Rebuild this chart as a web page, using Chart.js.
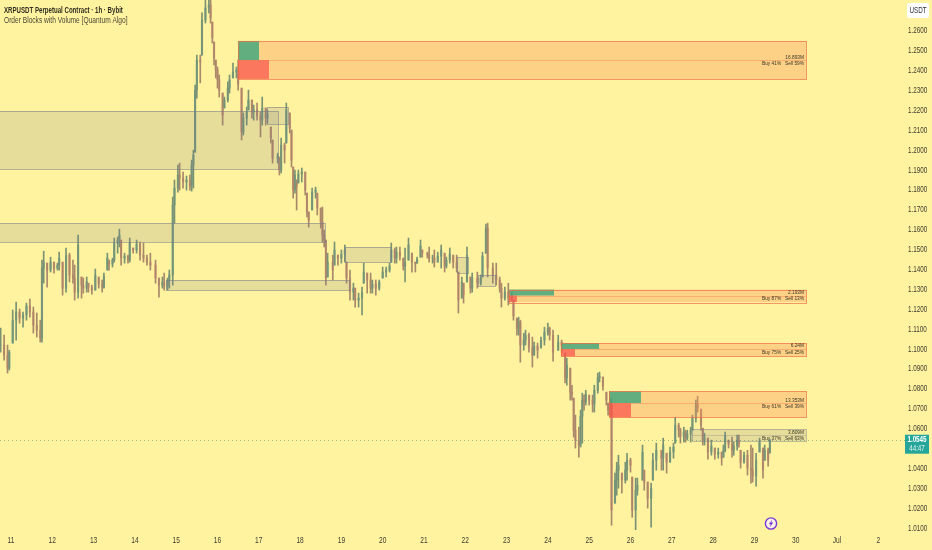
<!DOCTYPE html>
<html>
<head>
<meta charset="utf-8">
<style>
  html, body { margin: 0; padding: 0; background: #fff3a0; }
</style>
<script src="https://cdn.jsdelivr.net/npm/chart.js@4"></script>
</head>
<body>
<canvas id="chart" width="932" height="550"></canvas>
<script>
const priceTicks = ["1.0100","1.0200","1.0300","1.0400","1.0500","1.0600","1.0700","1.0800","1.0900","1.1000","1.1100","1.1200","1.1300","1.1400","1.1500","1.1600","1.1700","1.1800","1.1900","1.2000","1.2100","1.2200","1.2300","1.2400","1.2500","1.2600"];
const dayTicks = [11,12,13,14,15,16,17,18,19,20,21,22,23,24,25,26,27,28,29,30,31,32];
const dayLabels = ["11","12","13","14","15","16","17","18","19","20","21","22","23","24","25","26","27","28","29","30","Jul","2"];

// hours since Jun 10 18:00
const hours = [0,2,4,5,7,9,11,13,15,17,19,21,23,24,25,27,29,31,33,34,36,38,40,42,43,45,47,48,50,51,53,55,57,59,60,62,63,65,66,68,69,70,72,74,75,77,79,81,83,85,87,90,92,94,95,97,98,100,101,103,104,106,108,110,111,112,113,114,116,117,119,121,122,123,124,125,126,127,129,130,132,133,135,137,138,140,141,143,144,146,147,149,151,152,154,155,157,158,161,162,163,165,166,168,169,170,171,172,173,175,177,178,179,181,183,184,186,187,188,189,190,193,194,196,198,200,201,203,205,206,208,210,211,213,215,216,218,220,222,224,226,227,229,230,232,234,235,237,239,241,242,244,245,248,249,251,252,254,256,258,259,261,263,265,266,268,269,271,273,274,277,279,280,282,283,286,288,290,291,293,295,297,298,300,301,302,304,305,307,309,310,312,314,316,318,319,321,324,326,328,329,331,332,333,334,336,337,338,339,340,342,344,345,347,348,350,352,353,354,355,357,358,359,361,363,364,366,367,369,370,373,374,376,378,379,381,384,385,387,389,391,392,394,395,397,398,399,401,402,404,405,407,408,409,411,413,415,417,419,420,421,423,425,426,428,429,430,432,434,436,437,439,441,443,444,446,447];
const highs = [1.1106,1.1071,1.1021,1.0995,1.1197,1.1237,1.1202,1.1187,1.1232,1.1252,1.1212,1.1182,1.1146,1.1448,1.1493,1.1433,1.1463,1.1438,1.1433,1.1488,1.1438,1.1509,1.1483,1.1448,1.1423,1.1574,1.1363,1.1358,1.1363,1.1332,1.1322,1.1403,1.1363,1.1348,1.1383,1.1483,1.1448,1.1458,1.1559,1.1564,1.1604,1.1549,1.1483,1.1473,1.1559,1.1509,1.1549,1.1539,1.1534,1.1473,1.1483,1.1448,1.1358,1.1363,1.1383,1.1358,1.1398,1.1765,1.1851,1.1926,1.1936,1.1891,1.1871,1.1876,1.1951,1.2001,1.2328,1.2479,1.2479,1.2691,1.2790,1.2790,1.2770,1.2645,1.2545,1.2454,1.2419,1.2379,1.2288,1.2268,1.2344,1.2379,1.2439,1.2419,1.2454,1.2313,1.2188,1.2218,1.2303,1.2253,1.2228,1.2238,1.2193,1.2268,1.2213,1.2203,1.2117,1.2052,1.1986,1.1966,1.2062,1.2037,1.2238,1.2188,1.2102,1.1916,1.1901,1.1851,1.1901,1.1911,1.1891,1.1785,1.1690,1.1810,1.1815,1.1785,1.1710,1.1715,1.1599,1.1549,1.1483,1.1473,1.1539,1.1473,1.1499,1.1524,1.1438,1.1398,1.1332,1.1307,1.1282,1.1312,1.1433,1.1383,1.1383,1.1348,1.1348,1.1348,1.1413,1.1413,1.1433,1.1534,1.1509,1.1514,1.1514,1.1458,1.1509,1.1559,1.1483,1.1438,1.1463,1.1549,1.1499,1.1488,1.1514,1.1473,1.1499,1.1488,1.1524,1.1483,1.1463,1.1509,1.1473,1.1473,1.1388,1.1363,1.1332,1.1514,1.1363,1.1383,1.1388,1.1373,1.1488,1.1629,1.1634,1.1433,1.1433,1.1363,1.1332,1.1312,1.1332,1.1287,1.1247,1.1156,1.1161,1.1146,1.1081,1.1096,1.1081,1.1061,1.1036,1.1031,1.1061,1.1111,1.1131,1.1111,1.1096,1.1071,1.1046,1.0980,1.0955,1.0905,1.0819,1.0754,1.0669,1.0608,1.0694,1.0779,1.0769,1.0794,1.0769,1.0769,1.0819,1.0880,1.0885,1.0860,1.0784,1.0729,1.0754,1.0754,1.0377,1.0432,1.0467,1.0377,1.0432,1.0477,1.0452,1.0357,1.0352,1.0352,1.0518,1.0392,1.0332,1.0327,1.0477,1.0528,1.0492,1.0553,1.0477,1.0508,1.0528,1.0658,1.0628,1.0603,1.0608,1.0593,1.0593,1.0608,1.0669,1.0744,1.0764,1.0699,1.0603,1.0578,1.0553,1.0543,1.0503,1.0503,1.0483,1.0518,1.0583,1.0543,1.0558,1.0533,1.0568,1.0568,1.0492,1.0483,1.0492,1.0518,1.0503,1.0477,1.0553,1.0503,1.0518,1.0503,1.0543];
const lows = [1.0985,1.0945,1.0880,1.0895,1.1031,1.1046,1.1131,1.1111,1.1146,1.1161,1.1081,1.1061,1.1036,1.1036,1.1332,1.1312,1.1388,1.1383,1.1398,1.1398,1.1272,1.1287,1.1338,1.1332,1.1247,1.1257,1.1257,1.1282,1.1287,1.1287,1.1277,1.1297,1.1307,1.1287,1.1307,1.1398,1.1398,1.1413,1.1438,1.1483,1.1514,1.1423,1.1433,1.1433,1.1438,1.1483,1.1483,1.1448,1.1438,1.1423,1.1398,1.1332,1.1262,1.1307,1.1297,1.1297,1.1307,1.1322,1.1634,1.1790,1.1800,1.1810,1.1800,1.1800,1.1795,1.1810,1.1991,1.2263,1.2339,1.2479,1.2640,1.2691,1.2640,1.2540,1.2429,1.2364,1.2313,1.2268,1.2127,1.2213,1.2243,1.2288,1.2364,1.2364,1.2303,1.2052,1.2077,1.2127,1.2203,1.2162,1.2152,1.2152,1.2067,1.2127,1.2127,1.2137,1.2037,1.1936,1.1936,1.1876,1.1886,1.1936,1.2037,1.2087,1.1916,1.1760,1.1785,1.1700,1.1836,1.1841,1.1775,1.1665,1.1614,1.1700,1.1760,1.1675,1.1609,1.1539,1.1514,1.1322,1.1363,1.1348,1.1423,1.1423,1.1433,1.1438,1.1332,1.1247,1.1247,1.1212,1.1212,1.1172,1.1332,1.1282,1.1282,1.1282,1.1272,1.1297,1.1358,1.1363,1.1388,1.1438,1.1433,1.1433,1.1448,1.1398,1.1338,1.1448,1.1388,1.1388,1.1433,1.1463,1.1463,1.1458,1.1438,1.1433,1.1413,1.1438,1.1408,1.1388,1.1408,1.1433,1.1408,1.1388,1.1182,1.1257,1.1232,1.1338,1.1282,1.1287,1.1307,1.1322,1.1363,1.1483,1.1363,1.1332,1.1322,1.1287,1.1212,1.1247,1.1222,1.1247,1.1146,1.1071,1.1071,1.0935,1.0995,1.1021,1.0985,1.0910,1.0970,1.0955,1.1006,1.1021,1.1071,1.1046,1.0940,1.0995,1.0985,1.0830,1.0819,1.0744,1.0744,1.0558,1.0503,1.0457,1.0508,1.0528,1.0694,1.0719,1.0719,1.0684,1.0684,1.0779,1.0835,1.0794,1.0719,1.0669,1.0669,1.0115,1.0226,1.0266,1.0301,1.0276,1.0327,1.0342,1.0382,1.0155,1.0090,1.0266,1.0342,1.0291,1.0201,1.0105,1.0342,1.0392,1.0392,1.0392,1.0377,1.0432,1.0452,1.0528,1.0558,1.0528,1.0533,1.0533,1.0543,1.0533,1.0593,1.0633,1.0684,1.0593,1.0518,1.0518,1.0447,1.0467,1.0447,1.0452,1.0417,1.0457,1.0483,1.0503,1.0457,1.0467,1.0492,1.0508,1.0402,1.0427,1.0367,1.0327,1.0332,1.0311,1.0483,1.0352,1.0442,1.0412,1.0478];
const closes = [1.1021,1.0970,1.0905,1.0985,1.1146,1.1187,1.1156,1.1172,1.1217,1.1187,1.1121,1.1096,1.1056,1.1408,1.1438,1.1398,1.1438,1.1408,1.1423,1.1458,1.1307,1.1473,1.1373,1.1358,1.1287,1.1524,1.1322,1.1307,1.1338,1.1312,1.1297,1.1373,1.1327,1.1312,1.1368,1.1458,1.1428,1.1448,1.1534,1.1549,1.1574,1.1458,1.1468,1.1448,1.1534,1.1499,1.1529,1.1473,1.1458,1.1438,1.1423,1.1358,1.1322,1.1338,1.1317,1.1348,1.1373,1.1725,1.1810,1.1876,1.1861,1.1841,1.1851,1.1820,1.1926,1.1976,1.2303,1.2454,1.2444,1.2655,1.2716,1.2731,1.2665,1.2565,1.2464,1.2404,1.2354,1.2303,1.2178,1.2253,1.2313,1.2354,1.2394,1.2404,1.2333,1.2092,1.2162,1.2193,1.2253,1.2193,1.2203,1.2173,1.2152,1.2213,1.2162,1.2183,1.2062,1.1961,1.1971,1.1901,1.2027,1.2001,1.2203,1.2112,1.1951,1.1800,1.1876,1.1820,1.1881,1.1891,1.1800,1.1690,1.1649,1.1790,1.1800,1.1710,1.1639,1.1574,1.1549,1.1358,1.1438,1.1398,1.1499,1.1458,1.1478,1.1499,1.1358,1.1287,1.1307,1.1247,1.1257,1.1287,1.1388,1.1348,1.1307,1.1327,1.1307,1.1338,1.1388,1.1398,1.1418,1.1499,1.1458,1.1488,1.1468,1.1418,1.1438,1.1524,1.1438,1.1428,1.1453,1.1519,1.1483,1.1473,1.1458,1.1458,1.1438,1.1468,1.1499,1.1418,1.1448,1.1478,1.1438,1.1408,1.1247,1.1338,1.1272,1.1473,1.1307,1.1358,1.1332,1.1358,1.1468,1.1609,1.1408,1.1373,1.1348,1.1307,1.1257,1.1287,1.1257,1.1267,1.1167,1.1106,1.1136,1.1021,1.1046,1.1071,1.1006,1.0970,1.1016,1.0995,1.1046,1.1086,1.1106,1.1071,1.0985,1.1036,1.1021,1.0855,1.0920,1.0784,1.0774,1.0593,1.0543,1.0518,1.0663,1.0744,1.0734,1.0774,1.0744,1.0724,1.0794,1.0855,1.0865,1.0814,1.0744,1.0694,1.0724,1.0191,1.0342,1.0392,1.0417,1.0342,1.0392,1.0442,1.0417,1.0191,1.0291,1.0316,1.0482,1.0332,1.0251,1.0301,1.0442,1.0492,1.0452,1.0518,1.0432,1.0483,1.0508,1.0618,1.0593,1.0563,1.0583,1.0553,1.0573,1.0593,1.0653,1.0724,1.0704,1.0618,1.0543,1.0553,1.0483,1.0513,1.0472,1.0483,1.0452,1.0492,1.0563,1.0523,1.0492,1.0513,1.0543,1.0523,1.0432,1.0467,1.0402,1.0392,1.0362,1.0442,1.0533,1.0392,1.0492,1.0442,1.0545];

const lastPrice = 1.0545;
const countdown = "44:47";

// plain blocks: start day, end day, top price, bottom price
const blockStart = [10.7,17.199,10.7,14.753,19.087,21.799,22.308];
const blockEnd = [17.465,17.707,18.603,19.184,20.2,22.066,22.72];
const blockTop = [1.2198,1.2218,1.1634,1.1348,1.1514,1.1463,1.1373];
const blockBottom = [1.1906,1.2132,1.1539,1.1297,1.1438,1.1383,1.1317];

// volume blocks
const volStart = [16.497,23.059,24.317,25.48,27.49];
const volEnd = [30.25,30.25,30.25,30.25,30.25];
const volTop = [1.2550,1.1300,1.1031,1.0789,1.0598];
const volMid = [1.2454,1.1270,1.1001,1.0729,1.0568];
const volBottom = [1.2359,1.1237,1.0965,1.0658,1.0538];
const volBuyEnd = [17.005,24.148,25.238,26.254,null];
const volSellEnd = [17.247,23.252,24.656,26.012,null];
const volTotal = ["16.893M","2.193M","6.24M","13.353M","3.809M"];
const volBuy = ["Buy 41%","Buy 87%","Buy 75%","Buy 61%","Buy 37%"];
const volSell = ["Sell 59%","Sell 13%","Sell 25%","Sell 39%","Sell 63%"];

const UP = "#6aa88c", DOWN = "#dd8e74";
const UP_WICK = "#7a9274", DOWN_WICK = "#a8886a";
const FONT = '"Liberation Sans", sans-serif';

const days = hours.map(h => 10.75 + h / 24);
const opens = closes.map((c, i) => {
  const prev = i ? closes[i - 1] : c;
  return Math.min(highs[i], Math.max(lows[i], prev));
});
const colors = closes.map((c, i) => (c >= opens[i] ? UP : DOWN));
const wickColors = closes.map((c, i) => (c >= opens[i] ? UP_WICK : DOWN_WICK));

// the reference's labels are narrower than any installed face, so squeeze them
function text(ctx, str, x, y, align, squeeze) {
  ctx.save();
  ctx.translate(x, y);
  ctx.scale(squeeze, 1);
  ctx.textAlign = align;
  ctx.textBaseline = "middle";
  ctx.fillText(str, 0, 0);
  ctx.restore();
}

const overlay = {
  id: "overlay",
  afterDatasetsDraw(chart) {
    const { ctx, scales: { x, y } } = chart;
    ctx.save();
    ctx.lineWidth = 1;

    // plain blocks
    blockStart.forEach((s, i) => {
      const l = x.getPixelForValue(s), r = x.getPixelForValue(blockEnd[i]);
      const t = y.getPixelForValue(blockTop[i]), b = y.getPixelForValue(blockBottom[i]);
      ctx.fillStyle = "rgba(120,123,134,0.18)";
      ctx.strokeStyle = "rgba(120,123,134,0.55)";
      ctx.fillRect(l, t, r - l, b - t);
      ctx.strokeRect(l + 0.5, Math.round(t) + 0.5, r - l, Math.round(b - t));
    });

    // volume blocks
    volStart.forEach((s, i) => {
      const l = x.getPixelForValue(s), r = x.getPixelForValue(volEnd[i]);
      const t = y.getPixelForValue(volTop[i]), m = y.getPixelForValue(volMid[i]), b = y.getPixelForValue(volBottom[i]);
      const grey = volBuyEnd[i] === null;
      ctx.fillStyle = grey ? "rgba(120,123,134,0.18)" : "rgba(250,150,90,0.36)";
      ctx.strokeStyle = grey ? "rgba(120,123,134,0.45)" : "rgba(240,110,70,0.7)";
      ctx.fillRect(l, t, r - l, b - t);
      if (!grey) {
        ctx.fillStyle = "rgba(60,165,125,0.8)";
        ctx.fillRect(l, t, x.getPixelForValue(volBuyEnd[i]) - l, m - t);
        ctx.fillStyle = "rgba(250,70,70,0.65)";
        ctx.fillRect(l, m, x.getPixelForValue(volSellEnd[i]) - l, b - m);
      }
      ctx.strokeRect(l + 0.5, Math.round(t) + 0.5, r - l, Math.round(b - t));
      ctx.strokeStyle = grey ? "rgba(120,123,134,0.3)" : "rgba(240,110,70,0.35)";
      ctx.beginPath();
      ctx.moveTo(l, Math.round(m) + 0.5);
      ctx.lineTo(r, Math.round(m) + 0.5);
      ctx.stroke();

      ctx.fillStyle = "#3a3528";
      ctx.font = "6px " + FONT;
      text(ctx, volTotal[i], r - 2, m - 3.2, "right", 0.8);
      text(ctx, volSell[i], r - 2, m + 3.2, "right", 0.8);
      text(ctx, volBuy[i], r - 44, m + 3.2, "left", 0.8);
    });

    // last price line
    const ly = Math.round(y.getPixelForValue(lastPrice)) + 0.5;
    ctx.strokeStyle = "rgba(70,140,110,0.55)";
    ctx.setLineDash([1, 3]);
    ctx.beginPath();
    ctx.moveTo(0, ly);
    ctx.lineTo(905, ly);
    ctx.stroke();
    ctx.restore();
  },
  afterDraw(chart) {
    const { ctx, scales: { x, y } } = chart;
    const ly = y.getPixelForValue(lastPrice);
    ctx.save();

    // axis labels
    ctx.fillStyle = "#3f3c30";
    ctx.font = "8.5px " + FONT;
    priceTicks.forEach((t) => text(ctx, t, 908, y.getPixelForValue(parseFloat(t)), "left", 0.74));
    dayTicks.forEach((d, i) => text(ctx, dayLabels[i], x.getPixelForValue(d), 540.5, "center", 0.78));

    // price tag
    ctx.fillStyle = "#26a69a";
    ctx.fillRect(905, ly - 5, 24, 19);
    ctx.fillStyle = "#ffffff";
    ctx.font = "bold 8.5px " + FONT;
    text(ctx, lastPrice.toFixed(4), 917, ly, "center", 0.74);
    ctx.fillStyle = "rgba(255,255,255,0.85)";
    ctx.font = "8.5px " + FONT;
    text(ctx, countdown, 917, ly + 9, "center", 0.74);

    // currency box
    ctx.fillStyle = "#ffffff";
    ctx.beginPath();
    ctx.roundRect(907, 3, 22, 15, 2);
    ctx.fill();
    ctx.fillStyle = "#2a2e39";
    text(ctx, "USDT", 918, 11, "center", 0.74);

    // header
    ctx.fillStyle = "#2f2c20";
    ctx.font = "bold 8.4px " + FONT;
    text(ctx, "XRPUSDT Perpetual Contract · 1h · Bybit", 4, 10.5, "left", 0.73);
    ctx.font = "8.4px " + FONT;
    ctx.fillStyle = "#4a4636";
    text(ctx, "Order Blocks with Volume [Quantum Algo]", 4, 21, "left", 0.79);

    // bolt badge
    const cx = 771, cy = 523.5;
    ctx.beginPath();
    ctx.arc(cx, cy, 5.6, 0, Math.PI * 2);
    ctx.fillStyle = "#fbf3e6";
    ctx.fill();
    ctx.lineWidth = 1.4;
    ctx.strokeStyle = "#7b35d8";
    ctx.stroke();
    ctx.beginPath();
    ctx.moveTo(cx + 1.2, cy - 4);
    ctx.lineTo(cx - 2.2, cy + 0.7);
    ctx.lineTo(cx - 0.2, cy + 0.7);
    ctx.lineTo(cx - 1.2, cy + 4);
    ctx.lineTo(cx + 2.2, cy - 0.9);
    ctx.lineTo(cx + 0.2, cy - 0.9);
    ctx.closePath();
    ctx.fillStyle = "#7b35d8";
    ctx.fill();
    ctx.restore();
  }
};

new Chart(document.getElementById("chart").getContext("2d"), {
  type: "bar",
  plugins: [overlay],
  data: {
    datasets: [
      {
        label: "wick",
        data: days.map((d, i) => ({ x: d, y: [lows[i], highs[i]] })),
        backgroundColor: wickColors,
        barThickness: 1,
        grouped: false,
        borderWidth: 0,
        borderSkipped: false,
      },
      {
        label: "body",
        data: days.map((d, i) => ({ x: d, y: [opens[i], closes[i]] })),
        backgroundColor: colors,
        barThickness: 1.5,
        grouped: false,
        borderWidth: 0,
        borderSkipped: false,
      },
    ],
  },
  options: {
    responsive: false,
    animation: false,
    devicePixelRatio: 1,
    layout: { padding: 0 },
    plugins: { legend: { display: false }, tooltip: { enabled: false }, title: { display: false } },
    scales: {
      x: {
        type: "linear",
        offset: false,
        min: 10.734,
        max: 32.526,
        grid: { display: false },
        border: { display: false },
        afterFit: (s) => { s.height = 20; },
        ticks: { display: false },
      },
      y: {
        position: "right",
        min: 1.0091,
        max: 1.2756,
        grid: { display: false },
        border: { display: false },
        afterFit: (s) => { s.width = 32; },
        ticks: { display: false },
      },
    },
  },
});
</script>
</body>
</html>
